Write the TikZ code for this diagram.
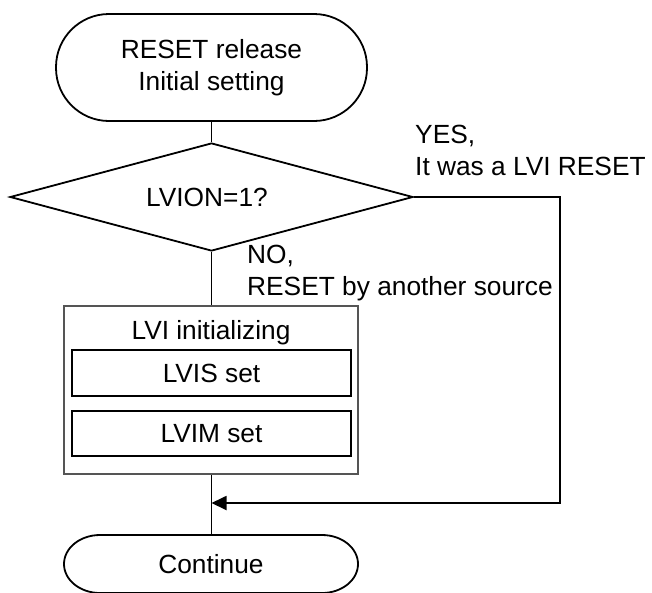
\documentclass[tikz,border=0pt]{standalone}
\usepackage{fontspec}
\setmainfont{Liberation Sans}
\usetikzlibrary{shapes.geometric,arrows.meta}
\tikzset{
  ln/.style={line width=1.8pt, black},
  termbox/.style={draw, ln, rectangle, inner sep=0pt, align=center},
  decbox/.style={draw, ln, diamond, inner sep=0pt, aspect=3.7},
  groupbox/.style={draw, line width=2pt, draw={rgb,255:red,85;green,85;blue,85}, rectangle, inner sep=0pt},
  procbox/.style={draw, line width=2pt, rectangle, inner sep=0pt},
  lbl/.style={inner sep=0pt, align=left},
  arr/.style={ln, -{Triangle[length=15pt,width=14pt]}}
}
\begin{document}
\begin{tikzpicture}[x=1pt,y=-1pt,font=\fontsize{26.3}{32}\selectfont]
\useasboundingbox (0,0) rectangle (652,592);
% start terminator
\node[termbox, rounded corners=53pt, minimum width=311pt, minimum height=107pt] (start) at (211.5,67.5) {RESET release\\Initial setting};
% decision
\node[decbox, minimum width=403pt, minimum height=108pt] (dec) at (211.5,197) {};
\node[inner sep=0pt] (dectxt) at (207,197) {LVION=1?};
% LVI initializing group
\node[groupbox, minimum width=294pt, minimum height=168pt] (init) at (211,390) {};
\node[inner sep=0pt, anchor=base] (inittxt) at (211,339) {LVI initializing};
\node[procbox, minimum width=279pt, minimum height=46pt] (lvis) at (211.5,373) {LVIS set};
\node[procbox, minimum width=279pt, minimum height=45pt] (lvim) at (211.5,433.5) {LVIM set};
% continue terminator (elliptical ends)
\node[inner sep=0pt, minimum width=294pt, minimum height=58pt] (cont) at (211,564) {Continue};
\draw[ln] (100,535) -- (322,535)
  .. controls (341.9,535) and (358,548) .. (358,564)
  .. controls (358,580) and (341.9,593) .. (322,593)
  -- (100,593)
  .. controls (80.1,593) and (64,580) .. (64,564)
  .. controls (64,548) and (80.1,535) .. cycle;
% labels
\node[lbl, anchor=base west] (yeslbl) at (415,175) {YES,\\It was a LVI RESET};
\node[lbl, anchor=base west] (nolbl) at (247,295) {NO,\\RESET by another source};
% connectors
\coordinate (yescorner) at (560,197);
\coordinate (merge) at (211.5,503);
\draw[ln] (start.south) -- (dec.north);
\draw[ln] (dec.south) -- (dec.south |- init.north);
\draw[ln] (init.south -| merge) -- (cont.north -| merge);
\draw[arr] (dec.east) -- (yescorner) |- (merge);
\end{tikzpicture}
\end{document}
